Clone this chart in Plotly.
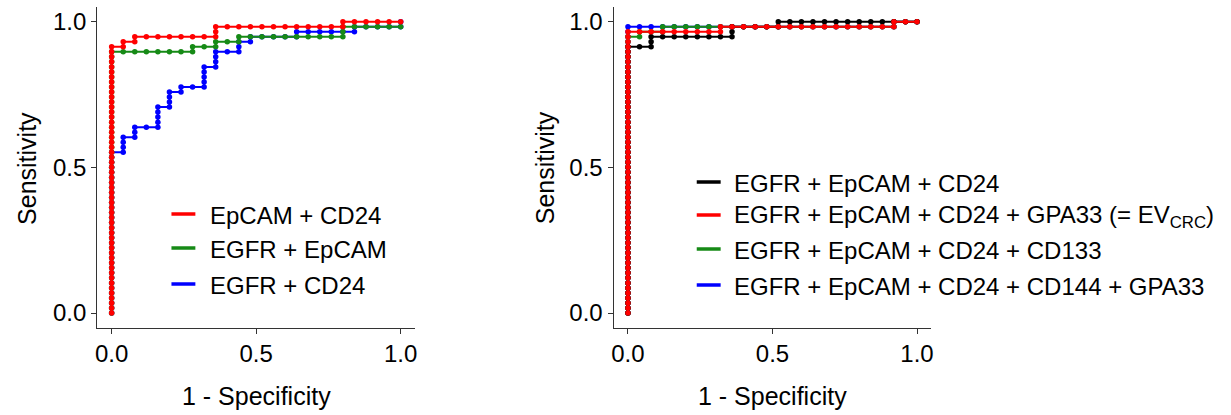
import plotly.graph_objects as go

# ROC points as (false-positive count, true-positive count)
N_CASES = 58
N_CONTROLS = 25

# ---------------- left panel ----------------
EPCAM_CD24 = [
    (0,0),(0,1),(0,2),(0,3),(0,4),(0,5),(0,6),(0,7),(0,8),(0,9),(0,10),(0,11),(0,12),(0,13),(0,14),(0,15),(0,16),(0,17),(0,18),(0,19),
    (0,20),(0,21),(0,22),(0,23),(0,24),(0,25),(0,26),(0,27),(0,28),(0,29),(0,30),(0,31),(0,32),(0,33),(0,34),(0,35),(0,36),(0,37),(0,38),(0,39),
    (0,40),(0,41),(0,42),(0,43),(0,44),(0,45),(0,46),(0,47),(0,48),(0,49),(0,50),(0,51),(0,52),(0,53),
    (1,53),(1,54),(2,54),(2,55),(3,55),(4,55),(5,55),(6,55),(7,55),(8,55),(9,55),(9,56),(9,57),
    (10,57),(11,57),(12,57),(13,57),(14,57),(15,57),(16,57),(17,57),(18,57),(19,57),(20,57),(20,58),
    (21,58),(22,58),(23,58),(24,58),(25,58),
]
EGFR_EPCAM = [
    (0,0),(0,1),(0,2),(0,3),(0,4),(0,5),(0,6),(0,7),(0,8),(0,9),(0,10),(0,11),(0,12),(0,13),(0,14),(0,15),(0,16),(0,17),(0,18),(0,19),
    (0,20),(0,21),(0,22),(0,23),(0,24),(0,25),(0,26),(0,27),(0,28),(0,29),(0,30),(0,31),(0,32),(0,33),(0,34),(0,35),(0,36),(0,37),(0,38),(0,39),
    (0,40),(0,41),(0,42),(0,43),(0,44),(0,45),(0,46),(0,47),(0,48),(0,49),(0,50),(0,51),(0,52),
    (1,52),(2,52),(3,52),(4,52),(5,52),(6,52),(7,52),(7,53),(8,53),(9,53),(9,54),(10,54),(11,54),(11,55),
    (12,55),(13,55),(14,55),(15,55),(16,55),(17,55),(18,55),(19,55),(20,55),(20,56),(20,57),
    (21,57),(22,57),(23,57),(24,57),(25,57),
]
EGFR_CD24 = [
    (0,0),(0,1),(0,2),(0,3),(0,4),(0,5),(0,6),(0,7),(0,8),(0,9),(0,10),(0,11),(0,12),(0,13),(0,14),(0,15),(0,16),(0,17),(0,18),(0,19),
    (0,20),(0,21),(0,22),(0,23),(0,24),(0,25),(0,26),(0,27),(0,28),(0,29),(0,30),(0,31),(0,32),
    (1,32),(1,33),(1,34),(1,35),(2,35),(2,36),(2,37),(3,37),(4,37),(4,38),(4,39),(4,40),(4,41),
    (5,41),(5,42),(5,43),(5,44),(6,44),(6,45),(7,45),(8,45),(8,46),(8,47),(8,48),(8,49),
    (9,49),(9,50),(9,51),(9,52),(10,52),(11,52),(11,53),(11,54),(12,54),(12,55),
    (13,55),(14,55),(15,55),(16,55),(16,56),(17,56),(18,56),(19,56),(20,56),(21,56),(21,57),
    (22,57),(23,57),(24,57),(25,57),(25,58),
]

# ---------------- right panel ----------------
EGFR_EPCAM_CD24 = [
    (0,0),(0,1),(0,2),(0,3),(0,4),(0,5),(0,6),(0,7),(0,8),(0,9),(0,10),(0,11),(0,12),(0,13),(0,14),(0,15),(0,16),(0,17),(0,18),(0,19),
    (0,20),(0,21),(0,22),(0,23),(0,24),(0,25),(0,26),(0,27),(0,28),(0,29),(0,30),(0,31),(0,32),(0,33),(0,34),(0,35),(0,36),(0,37),(0,38),(0,39),
    (0,40),(0,41),(0,42),(0,43),(0,44),(0,45),(0,46),(0,47),(0,48),(0,49),(0,50),(0,51),(0,52),(0,53),
    (1,53),(2,53),(2,54),(2,55),(3,55),(4,55),(5,55),(6,55),(7,55),(8,55),(9,55),(9,56),(9,57),
    (10,57),(11,57),(12,57),(13,57),(13,58),(14,58),(15,58),(16,58),(17,58),(18,58),(19,58),(20,58),
    (21,58),(22,58),(23,58),(24,58),(25,58),
]
EV_CRC = [
    (0,0),(0,1),(0,2),(0,3),(0,4),(0,5),(0,6),(0,7),(0,8),(0,9),(0,10),(0,11),(0,12),(0,13),(0,14),(0,15),(0,16),(0,17),(0,18),(0,19),
    (0,20),(0,21),(0,22),(0,23),(0,24),(0,25),(0,26),(0,27),(0,28),(0,29),(0,30),(0,31),(0,32),(0,33),(0,34),(0,35),(0,36),(0,37),(0,38),(0,39),
    (0,40),(0,41),(0,42),(0,43),(0,44),(0,45),(0,46),(0,47),(0,48),(0,49),(0,50),(0,51),(0,52),(0,53),(0,54),(0,55),(0,56),
    (1,56),(2,56),(3,56),(4,56),(5,56),(6,56),(7,56),(8,56),(8,57),(9,57),(10,57),(11,57),(12,57),(13,57),
    (14,57),(15,57),(16,57),(17,57),(18,57),(19,57),(20,57),(21,57),(22,57),(23,57),(23,58),(24,58),(25,58),
]
EGFR_EPCAM_CD24_CD133 = [
    (0,0),(0,1),(0,2),(0,3),(0,4),(0,5),(0,6),(0,7),(0,8),(0,9),(0,10),(0,11),(0,12),(0,13),(0,14),(0,15),(0,16),(0,17),(0,18),(0,19),
    (0,20),(0,21),(0,22),(0,23),(0,24),(0,25),(0,26),(0,27),(0,28),(0,29),(0,30),(0,31),(0,32),(0,33),(0,34),(0,35),(0,36),(0,37),(0,38),(0,39),
    (0,40),(0,41),(0,42),(0,43),(0,44),(0,45),(0,46),(0,47),(0,48),(0,49),(0,50),(0,51),(0,52),(0,53),(0,54),(0,55),
    (1,55),(1,56),(2,56),(3,56),(3,57),(4,57),(5,57),(6,57),(7,57),(8,57),(9,57),(10,57),(11,57),(12,57),(13,57),
    (14,57),(15,57),(16,57),(17,57),(18,57),(19,57),(20,57),(21,57),(22,57),(23,57),(23,58),(24,58),(25,58),
]
EGFR_EPCAM_CD24_CD144_GPA33 = [
    (0,0),(0,1),(0,2),(0,3),(0,4),(0,5),(0,6),(0,7),(0,8),(0,9),(0,10),(0,11),(0,12),(0,13),(0,14),(0,15),(0,16),(0,17),(0,18),(0,19),
    (0,20),(0,21),(0,22),(0,23),(0,24),(0,25),(0,26),(0,27),(0,28),(0,29),(0,30),(0,31),(0,32),(0,33),(0,34),(0,35),(0,36),(0,37),(0,38),(0,39),
    (0,40),(0,41),(0,42),(0,43),(0,44),(0,45),(0,46),(0,47),(0,48),(0,49),(0,50),(0,51),(0,52),(0,53),(0,54),(0,55),(0,56),(0,57),
    (1,57),(2,57),(3,57),(4,57),(5,57),(6,57),(7,57),(8,57),(9,57),(10,57),(11,57),(12,57),(13,57),
    (14,57),(15,57),(16,57),(17,57),(18,57),(19,57),(20,57),(21,57),(22,57),(23,57),(23,58),(24,58),(25,58),
]

LEFT_LABELS = ["EpCAM + CD24", "EGFR + EpCAM", "EGFR + CD24"]
RIGHT_LABELS = [
    "EGFR + EpCAM + CD24",
    "EGFR + EpCAM + CD24 + GPA33 (= EV<sub>CRC</sub>)",
    "EGFR + EpCAM + CD24 + CD133",
    "EGFR + EpCAM + CD24 + CD144 + GPA33",
]
TICK_VALS = [0, 0.5, 1.0]
TICK_TEXT = ["0.0", "0.5", "1.0"]

RED = "#FF0000"
GREEN = "#168A16"
BLUE = "#0000FF"
BLACK = "#000000"
FONT = "Liberation Sans, Arial, sans-serif"

W, H = 1231, 415


def xy(points):
    return [p[0] / N_CONTROLS for p in points], [p[1] / N_CASES for p in points]


fig = go.Figure()

# left panel: drawn bottom-to-top
for pts, col in [(EGFR_CD24, BLUE), (EGFR_EPCAM, GREEN), (EPCAM_CD24, RED)]:
    x, y = xy(pts)
    fig.add_trace(go.Scatter(x=x, y=y, mode="lines+markers", xaxis="x", yaxis="y",
                             line=dict(color=col, width=2),
                             marker=dict(color=col, size=5.5), hoverinfo="skip"))

# right panel
for pts, col in [(EGFR_EPCAM_CD24_CD144_GPA33, BLUE), (EGFR_EPCAM_CD24_CD133, GREEN),
                 (EGFR_EPCAM_CD24, BLACK), (EV_CRC, RED)]:
    x, y = xy(pts)
    fig.add_trace(go.Scatter(x=x, y=y, mode="lines+markers", xaxis="x2", yaxis="y2",
                             line=dict(color=col, width=2),
                             marker=dict(color=col, size=5.5), hoverinfo="skip"))


def px_x(v):
    return v / W


def px_y(v):
    return 1 - v / H


axis_common = dict(
    range=[-0.05, 1.05], tickvals=TICK_VALS, ticktext=TICK_TEXT,
    showline=True, linecolor="#333333", linewidth=1, mirror=False,
    ticks="outside", ticklen=5, tickwidth=1, tickcolor="#333333",
    showgrid=False, zeroline=False,
    tickfont=dict(family=FONT, size=24, color="#000000"),
)

ydom = [px_y(327.6), px_y(7.1)]
fig.update_layout(
    width=W, height=H,
    margin=dict(l=0, r=0, t=0, b=0),
    paper_bgcolor="white", plot_bgcolor="white",
    showlegend=False,
    font=dict(family=FONT, size=24, color="#000000"),
    xaxis=dict(domain=[px_x(95.5), px_x(414.5)], anchor="y", **axis_common),
    yaxis=dict(domain=ydom, anchor="x", **axis_common),
    xaxis2=dict(domain=[px_x(613.5), px_x(932.5)], anchor="y2", **axis_common),
    yaxis2=dict(domain=ydom, anchor="x2", **axis_common),
)

annotations = []
shapes = []

# axis titles
for cx in [255, 773]:
    annotations.append(dict(text="1 - Specificity", x=px_x(cx), y=px_y(396), xref="paper", yref="paper",
                            xanchor="center", yanchor="middle", showarrow=False,
                            font=dict(family=FONT, size=25, color="#000000")))
for cx in [25, 545]:
    annotations.append(dict(text="Sensitivity", x=px_x(cx), y=px_y(168), xref="paper", yref="paper",
                            xanchor="center", yanchor="middle", showarrow=False, textangle=-90,
                            font=dict(family=FONT, size=25, color="#000000")))

# legends
for label, col, ly in zip(LEFT_LABELS, [RED, GREEN, BLUE], [214, 248, 284]):
    shapes.append(dict(type="line", xref="paper", yref="paper", x0=px_x(170), x1=px_x(194),
                       y0=px_y(ly), y1=px_y(ly), line=dict(color=col, width=3.5)))
    annotations.append(dict(text=label, x=px_x(207), y=px_y(ly + 1), xref="paper", yref="paper",
                            xanchor="left", yanchor="middle", showarrow=False,
                            font=dict(family=FONT, size=24, color="#000000")))
for label, col, ly in zip(RIGHT_LABELS, [BLACK, RED, GREEN, BLUE], [182, 215, 249, 285]):
    shapes.append(dict(type="line", xref="paper", yref="paper", x0=px_x(697), x1=px_x(721),
                       y0=px_y(ly), y1=px_y(ly), line=dict(color=col, width=3.5)))
    annotations.append(dict(text=label, x=px_x(732), y=px_y(ly + 1), xref="paper", yref="paper",
                            xanchor="left", yanchor="middle", showarrow=False,
                            font=dict(family=FONT, size=24, color="#000000")))

fig.update_layout(annotations=annotations, shapes=shapes)
fig.write_html("out.html")
